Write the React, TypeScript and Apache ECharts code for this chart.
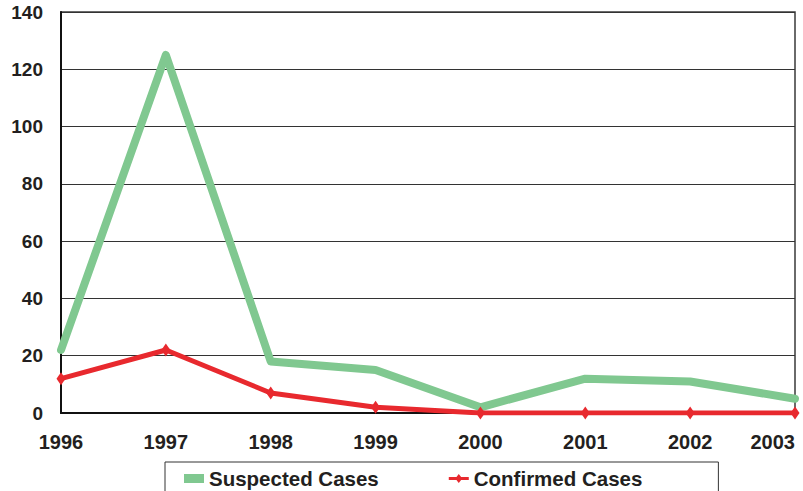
import React, { useEffect, useRef } from "react";
import * as echarts from "echarts";

const years = ["1996", "1997", "1998", "1999", "2000", "2001", "2002", "2003"];
const suspectedCases = [22, 125, 18, 15, 2, 12, 11, 5];
const confirmedCases = [12, 22, 7, 2, 0, 0, 0, 0];
const yTicks = { min: 0, max: 140, interval: 20 };

export default function App() {
  const ref = useRef<HTMLDivElement>(null);
  useEffect(() => {
    if (!ref.current) return;
    const chart = echarts.init(ref.current, null, { renderer: "svg" });
    const font = "'Liberation Sans', Arial, sans-serif";
    chart.setOption({
      animation: false,
      backgroundColor: "#ffffff",
      grid: {
        left: 61,
        right: 8,
        top: 12,
        bottom: 78,
        show: true,
        borderColor: "#3a3a3a",
        borderWidth: 1.5,
        containLabel: false,
        outerBoundsMode: "none",
      },
      legend: {
        left: 165,
        top: 462,
        padding: [6, 76, 30, 19],
        borderColor: "#333",
        borderWidth: 1,
        itemGap: 70,
        itemWidth: 20,
        itemHeight: 9,
        textStyle: { fontFamily: font, fontWeight: "bold", fontSize: 20.5, color: "#231f20" },
        data: [
          { name: "Suspected Cases", icon: "rect", itemStyle: { color: "#80c890" } },
          {
            name: "Confirmed Cases",
            icon: "path://M0,3L20,3L20,6L0,6Z M10,0L13.5,4.5L10,9L6.5,4.5Z",
            itemStyle: { color: "#e8292e" },
          },
        ],
      },
      xAxis: {
        type: "category",
        data: years,
        boundaryGap: false,
        axisLine: { lineStyle: { color: "#111", width: 2 } },
        axisTick: { show: false },
        axisLabel: {
          margin: 19,
          fontFamily: font,
          fontWeight: "bold",
          fontSize: 20,
          color: "#231f20",
          alignMaxLabel: "right",
        },
        splitLine: { show: false },
      },
      yAxis: {
        type: "value",
        min: yTicks.min,
        max: yTicks.max,
        interval: yTicks.interval,
        axisLine: { show: true, lineStyle: { color: "#111", width: 2 } },
        axisTick: { show: false },
        axisLabel: {
          margin: 18,
          fontFamily: font,
          fontWeight: "bold",
          fontSize: 19,
          color: "#231f20",
        },
        splitLine: { show: true, lineStyle: { color: "#333", width: 1 } },
      },
      series: [
        {
          name: "Suspected Cases",
          type: "line",
          data: suspectedCases,
          symbol: "none",
          lineStyle: { color: "#80c890", width: 8, cap: "round", join: "round" },
          itemStyle: { color: "#80c890" },
          z: 2,
        },
        {
          name: "Confirmed Cases",
          type: "line",
          data: confirmedCases,
          symbol: "diamond",
          symbolSize: [9, 13],
          showSymbol: true,
          lineStyle: { color: "#e8292e", width: 5 },
          itemStyle: { color: "#e8292e" },
          z: 3,
        },
      ],
    });
    return () => chart.dispose();
  }, []);
  return <div ref={ref} style={{ width: 803, height: 491, position: "absolute", left: 0, top: 0 }} />;
}
